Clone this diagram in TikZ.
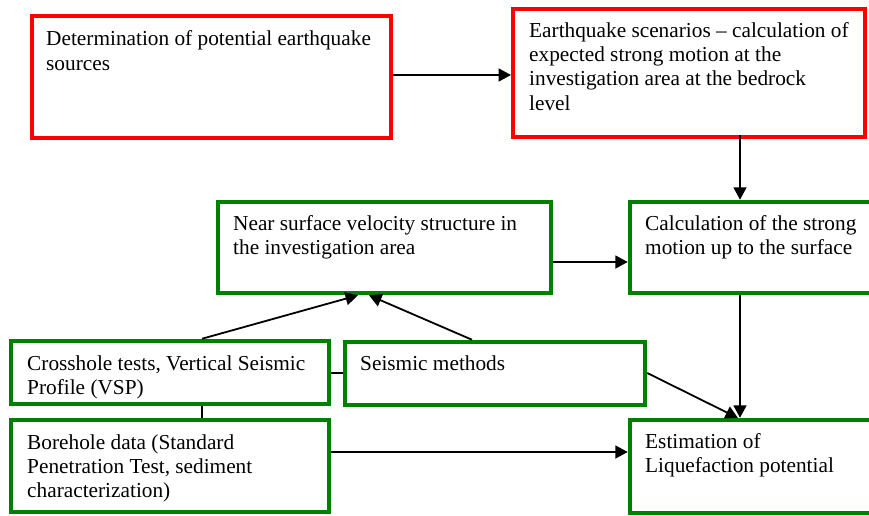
\documentclass[tikz,border=0pt]{standalone}
\usepackage{fontspec}
\setmainfont{Liberation Serif}
\usetikzlibrary{arrows.meta,calc}
\definecolor{boxred}{RGB}{255,0,0}
\definecolor{boxgreen}{RGB}{0,128,0}
\tikzset{
  redbox/.style={draw=boxred, line width=4pt, fill=white, inner sep=0pt},
  greenbox/.style={draw=boxgreen, line width=4.5pt, fill=white, inner sep=0pt},
  txt/.style={anchor=base west, inner sep=0pt, font=\fontsize{21.3}{24.3}\selectfont},
  arr/.style={-{Triangle[length=12.5pt,width=13pt]}, line width=1.8pt, black},
  plain/.style={line width=1.8pt, black}
}
\begin{document}
\begin{tikzpicture}[x=1pt,y=-1pt]
\useasboundingbox (0,0) rectangle (869,515);
\clip (0,0) rectangle (869,515);
\fill[white] (0,0) rectangle (869,515);
% boxes
\node[redbox, minimum width=359pt, minimum height=122pt] (b1) at (211.5,77) {};
\node[redbox, minimum width=352pt, minimum height=128pt] (b2) at (689,73) {};
\node[greenbox, minimum width=333pt, minimum height=91pt] (near) at (384.5,247.5) {};
\node[greenbox, minimum width=250pt, minimum height=91pt] (calc) at (755,247.5) {};
\node[greenbox, minimum width=318pt, minimum height=63pt] (cross) at (170,372.5) {};
\node[greenbox, minimum width=300pt, minimum height=63pt] (seis) at (495,373.5) {};
\node[greenbox, minimum width=318pt, minimum height=92pt] (bore) at (170,466) {};
\node[greenbox, minimum width=250pt, minimum height=93pt] (est) at (755,466.5) {};
% texts
\node[txt] (t1) at (46,45.7) {\vtop{\hbox{Determination of potential earthquake}\hbox{sources}}};
\node[txt] (t2) at (529,37.3) {\vtop{\hbox{Earthquake scenarios – calculation of}\hbox{expected strong motion at the}\hbox{investigation area at the bedrock}\hbox{level}}};
\node[txt] (t3) at (233,230.5) {\vtop{\hbox{Near surface velocity structure in}\hbox{the investigation area}}};
\node[txt] (t4) at (645,230.5) {\vtop{\hbox{Calculation of the strong}\hbox{motion up to the surface}}};
\node[txt] (t5) at (27,370) {\vtop{\hbox{Crosshole tests, Vertical Seismic}\hbox{Profile (VSP)}}};
\node[txt] (t6) at (360,370) {Seismic methods};
\node[txt] (t7) at (27,449) {\vtop{\hbox{Borehole data (Standard}\hbox{Penetration Test, sediment}\hbox{characterization)}}};
\node[txt] (t8) at (645,448) {\vtop{\hbox{Estimation of}\hbox{Liquefaction potential}}};
% helper coordinates
\coordinate (ya) at (0,75);
\coordinate (xv) at (740,0);
\coordinate (yn) at (0,262);
\coordinate (xc) at (202,0);
\coordinate (ncs) at (358,0);
\coordinate (nss) at (369,0);
\coordinate (xs) at (472,0);
\coordinate (yc) at (0,373);
\coordinate (yb) at (0,452);
\coordinate (estin) at (738,418);
% connectors
\draw[arr] (b1.east |- ya) -- (b2.west |- ya);
\draw[arr] ([yshift=4pt]b2.south -| xv) -- (calc.north -| xv);
\draw[arr] (near.east |- yn) -- (calc.west |- yn);
\draw[arr] (calc.south -| xv) -- (est.north -| xv);
\draw[arr] (cross.north -| xc) -- (near.south -| ncs);
\draw[arr] (seis.north -| xs) -- (near.south -| nss);
\draw[plain] (cross.east |- yc) -- (seis.west |- yc);
\draw[plain] (cross.south -| xc) -- (bore.north -| xc);
\draw[arr] (bore.east |- yb) -- (est.west |- yb);
\draw[arr] (seis.east |- yc) -- (estin);
\end{tikzpicture}
\end{document}
